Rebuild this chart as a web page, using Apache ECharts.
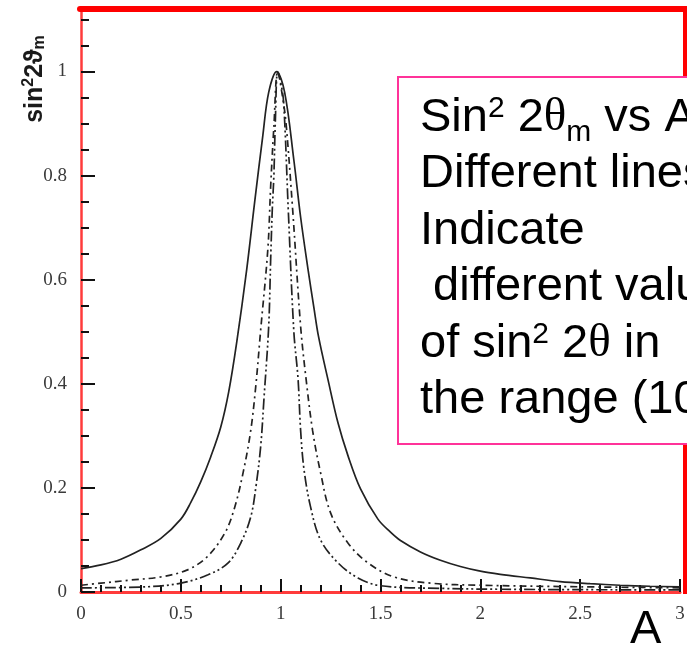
<!DOCTYPE html>
<html>
<head>
<meta charset="utf-8">
<script src="https://cdn.jsdelivr.net/npm/echarts@6/dist/echarts.min.js"></script>
<style>
  html, body { margin: 0; padding: 0; background: #ffffff; }
  #chart { width: 687px; height: 646px; }
</style>
</head>
<body>
<div id="chart"></div>
<script>
// Tick labels
const xTickLabels = ['0', '0.5', '1', '1.5', '2', '2.5', '3'];
const yTickLabels = ['0', '0.2', '0.4', '0.6', '0.8', '1'];

// Widest resonance curve (solid)
const solidA = [0, 0.1, 0.2, 0.3, 0.4, 0.5, 0.55, 0.6, 0.65, 0.7, 0.74, 0.78, 0.83, 0.87, 0.91, 0.94, 0.98,
  1.02, 1.066, 1.1, 1.137, 1.167, 1.19, 1.237, 1.287, 1.337, 1.4, 1.487, 1.55, 1.6, 1.7, 1.8, 1.9, 2.0,
  2.1, 2.25, 2.4, 2.55, 2.7, 2.85, 3.0];
const solidV = [0.045, 0.052, 0.063, 0.081, 0.103, 0.14, 0.172, 0.212, 0.26, 0.317, 0.385, 0.48, 0.62, 0.75, 0.875, 0.96, 1.0,
  0.96, 0.83, 0.72, 0.62, 0.545, 0.49, 0.408, 0.325, 0.262, 0.198, 0.14, 0.115, 0.099, 0.077, 0.061, 0.049, 0.04,
  0.034, 0.027, 0.02, 0.016, 0.013, 0.011, 0.01];

// Middle curve (dash-dot)
const dashDotA = [0, 0.1, 0.25, 0.4, 0.53, 0.63, 0.72, 0.77, 0.815, 0.85, 0.875, 0.9, 0.936, 0.95, 0.966, 0.985,
  1.01, 1.027, 1.06, 1.1, 1.127, 1.16, 1.2, 1.25, 1.337, 1.437, 1.567, 1.75, 2.0, 2.5, 3.0];
const dashDotV = [0.013, 0.017, 0.023, 0.029, 0.042, 0.067, 0.113, 0.163, 0.235, 0.31, 0.394, 0.504, 0.66, 0.78, 0.894, 1.0,
  0.95, 0.9, 0.735, 0.51, 0.41, 0.31, 0.229, 0.152, 0.094, 0.056, 0.029, 0.017, 0.013, 0.01, 0.008];

// Narrowest curve (dash-dot-dot)
const narrowA = [0, 0.33, 0.5, 0.636, 0.737, 0.8, 0.85, 0.876, 0.9, 0.917, 0.94, 0.95, 0.958, 0.966, 0.973, 0.985,
  1.0, 1.015, 1.038, 1.066, 1.087, 1.1, 1.117, 1.15, 1.2, 1.287, 1.387, 1.5, 1.8, 2.2, 3.0];
const narrowV = [0.008, 0.01, 0.017, 0.033, 0.056, 0.094, 0.144, 0.202, 0.28, 0.375, 0.51, 0.64, 0.735, 0.8, 0.9, 1.0,
  0.98, 0.94, 0.735, 0.5, 0.41, 0.31, 0.235, 0.163, 0.1, 0.056, 0.027, 0.012, 0.007, 0.005, 0.004];

const zip = (xs, ys) => xs.map((x, i) => [x, ys[i]]);

const SANS = '"Liberation Sans", Arial, sans-serif';
const SERIF = '"Liberation Serif", "Times New Roman", serif';
const BOX_FS = 47;

const boxRich = {
  t:   { fontFamily: SANS, fontSize: BOX_FS, fill: '#000' },
  th:  { fontFamily: SERIF, fontSize: BOX_FS, fill: '#000' },
  sup: { fontFamily: SANS, fontSize: 30, fill: '#000', padding: [0, 0, 18, 0] },
  sub: { fontFamily: SANS, fontSize: 30, fill: '#000', padding: [29, 0, 0, 0] }
};

function boxLine(text, y) {
  return {
    type: 'text', x: 420, y: y, z: 20,
    style: { text: text, rich: boxRich, align: 'left', verticalAlign: 'middle' }
  };
}

const chart = echarts.init(document.getElementById('chart'), null, { renderer: 'canvas' });

const tickFont = { fontFamily: SERIF, fontSize: 19, color: '#3a3a3a' };
const lineColor = '#222222';

chart.setOption({
  animation: false,
  backgroundColor: '#ffffff',
  grid: { left: 81, right: 7, top: -32.6, bottom: 54, containLabel: false, outerBoundsMode: 'none' },
  xAxis: {
    type: 'value', min: 0, max: 3, interval: 0.5,
    axisLine: { show: true, onZero: false, lineStyle: { color: '#ff3b3b', width: 3 } },
    axisTick: { show: true, inside: true, length: 13, lineStyle: { color: '#111', width: 2 } },
    minorTick: { show: true, splitNumber: 5, length: 7, lineStyle: { color: '#111', width: 2 } },
    splitLine: { show: false },
    axisLabel: Object.assign({ margin: 13,
      formatter: v => xTickLabels.find(s => Number(s) === v) || '' }, tickFont)
  },
  yAxis: {
    type: 'value', min: 0, max: 1.2, interval: 0.2,
    axisLine: { show: true, onZero: false, lineStyle: { color: '#ff3b3b', width: 2.5 } },
    axisTick: { show: true, inside: true, length: 14, lineStyle: { color: '#111', width: 2 } },
    minorTick: { show: true, splitNumber: 4, length: 8, lineStyle: { color: '#111', width: 2 } },
    splitLine: { show: false },
    axisLabel: Object.assign({ margin: 14,
      formatter: v => yTickLabels.find(s => Number(s) === v) || '' }, tickFont)
  },
  series: [
    {
      name: 'solid', type: 'line', data: zip(solidA, solidV),
      showSymbol: false, smooth: 0.35,
      lineStyle: { color: lineColor, width: 1.7, type: 'solid' }
    },
    {
      name: 'dashDot', type: 'line', data: zip(dashDotA, dashDotV),
      showSymbol: false, smooth: 0.35,
      lineStyle: { color: lineColor, width: 1.7, type: [7, 4, 2, 4] }
    },
    {
      name: 'narrow', type: 'line', data: zip(narrowA, narrowV),
      showSymbol: false, smooth: 0.35,
      lineStyle: { color: lineColor, width: 1.7, type: [11, 3, 2, 3, 2, 3] }
    }
  ],
  graphic: [
    // cover above the frame's top edge
    { type: 'rect', z: 14, shape: { x: 0, y: 0, width: 687, height: 8 }, style: { fill: '#ffffff' } },
    // red frame: top and right edges
    { type: 'line', z: 15, shape: { x1: 80, y1: 9, x2: 687, y2: 9 },
      style: { stroke: '#ff0000', lineWidth: 6, lineCap: 'round' } },
    { type: 'line', z: 15, shape: { x1: 685.5, y1: 7, x2: 685.5, y2: 594 },
      style: { stroke: '#ff0000', lineWidth: 5 } },
    // vertical axis title
    { type: 'text', x: 35, y: 79, rotation: Math.PI / 2, z: 10,
      style: {
        text: '{a|sin}{s|2}{a|2ϑ}{b|m}', align: 'center', verticalAlign: 'middle',
        rich: {
          a: { fontFamily: SANS, fontSize: 25, fontWeight: 'bold', fill: '#1a1a1a' },
          s: { fontFamily: SANS, fontSize: 16, fontWeight: 'bold', fill: '#1a1a1a', padding: [0, 0, 12, 0] },
          b: { fontFamily: SANS, fontSize: 16, fontWeight: 'bold', fill: '#1a1a1a', padding: [10, 0, 0, 0] }
        }
      } },
    // annotation box
    { type: 'rect', z: 18, shape: { x: 398, y: 77, width: 320, height: 367 },
      style: { fill: '#ffffff', stroke: '#ff3399', lineWidth: 2 } },
    boxLine('{t|Sin}{sup|2}{t| 2}{th|θ}{sub|m}{t| vs A}', 118),
    boxLine('{t|Different lines}', 174.5),
    boxLine('{t|Indicate}', 231),
    boxLine('{t| different values}', 287.5),
    boxLine('{t|of sin}{sup|2}{t| 2}{th|θ}{t| in}', 344),
    boxLine('{t|the range (10}', 400.5),
    // horizontal axis title
    { type: 'text', x: 630, y: 630, z: 20,
      style: { text: 'A', fontFamily: SANS, fontSize: BOX_FS, fill: '#000', align: 'left', verticalAlign: 'middle' } }
  ]
});
</script>
</body>
</html>
